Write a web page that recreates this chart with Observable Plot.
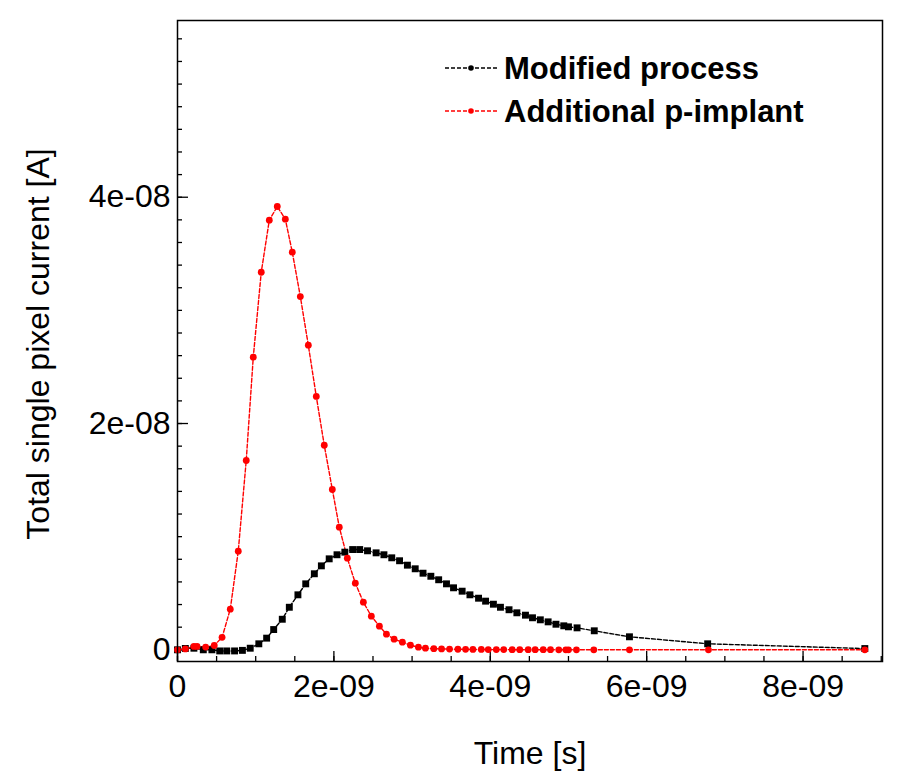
<!DOCTYPE html>
<html><head><meta charset="utf-8">
<script src="https://cdn.jsdelivr.net/npm/d3@7"></script>
<script src="https://cdn.jsdelivr.net/npm/@observablehq/plot@0.6"></script>
<style>
body{margin:0;background:#fff;}
#chart{position:relative;width:901px;height:781px;}
</style>
</head><body><div id="chart"></div>
<script>
const FONT = "'Liberation Sans', Arial, Helvetica, sans-serif";

// Modified process (black squares): time in ns, current in units of 1e-8 A
const modTimeNs = [0, 0.10, 0.21, 0.33, 0.44, 0.54, 0.63, 0.73, 0.83, 0.93,
  1.04, 1.14, 1.23, 1.34, 1.43, 1.54, 1.64, 1.75, 1.84, 1.94,
  2.04, 2.14, 2.24, 2.33, 2.43, 2.54, 2.64, 2.74, 2.84, 2.94,
  3.04, 3.14, 3.24, 3.34, 3.44, 3.53, 3.64, 3.74, 3.85, 3.94,
  4.04, 4.13, 4.24, 4.34, 4.45, 4.54, 4.64, 4.74, 4.84, 4.94,
  5.00, 5.11, 5.33, 5.78, 6.78, 8.79];
const modCurrent = [0, 0.012, 0.014, 0, 0, -0.01, -0.01, -0.01, -0.005, 0.014,
  0.053, 0.103, 0.179, 0.270, 0.376, 0.486, 0.583, 0.672, 0.742, 0.804,
  0.840, 0.863, 0.886, 0.886, 0.875, 0.857, 0.840, 0.813, 0.787, 0.748,
  0.716, 0.677, 0.650, 0.619, 0.583, 0.548, 0.518, 0.486, 0.456, 0.430,
  0.403, 0.376, 0.354, 0.327, 0.306, 0.283, 0.265, 0.247, 0.226, 0.212,
  0.203, 0.194, 0.168, 0.115, 0.053, 0.011];

// Additional p-implant (red circles)
const impTimeNs = [0, 0.10, 0.21, 0.25, 0.36, 0.47, 0.57,
  0.675, 0.777, 0.879, 0.969, 1.071, 1.174, 1.276, 1.379, 1.468, 1.571, 1.673,
  1.775, 1.877, 1.980, 2.069, 2.172, 2.274, 2.377, 2.479, 2.582, 2.672,
  2.770, 2.876, 2.979, 3.081, 3.171,
  3.278, 3.377, 3.479, 3.586, 3.684, 3.778, 3.885, 3.974, 4.077, 4.172, 4.280,
  4.377, 4.485, 4.574, 4.677, 4.770, 4.876, 4.966, 5.000, 5.102, 5.324,
  5.78, 6.79, 8.79];
const impCurrent = [0, 0.008, 0.03, 0.03, 0.024, 0.038, 0.11,
  0.359, 0.872, 1.673, 2.586, 3.337, 3.797, 3.918, 3.806, 3.514, 3.122, 2.692,
  2.239, 1.808, 1.417, 1.084, 0.810, 0.589, 0.421, 0.297, 0.209, 0.138,
  0.094, 0.067, 0.041, 0.023, 0.014,
  0.010, 0.008, 0.006, 0.005, 0.004, 0.003, 0.003, 0.002, 0.002, 0.002, 0.001,
  0.001, 0.001, 0.001, 0.001, 0.001, 0, 0, 0, 0, 0,
  0, 0, 0];

const seriesNames = ["Modified process", "Additional p-implant"];
const seriesColors = ["#000000", "#ff0000"];

const xTicks = [0, 2e-9, 4e-9, 6e-9, 8e-9];
const yTicks = [0, 2e-8, 4e-8];
const xMinor = d3.range(0, 9.01e-9, 5e-10);
const yMinor = d3.range(0, 5.41e-8, 2e-9);

const toRows = (ts, vs) => ts.map((t, i) => ({t: t * 1e-9, v: vs[i] * 1e-8}));
const modRows = toRows(modTimeNs, modCurrent);
const impRows = toRows(impTimeNs, impCurrent);

const fmt = d => d === 0 ? "0" : d.toExponential(0).replace(/e([+-])(\d)$/, "e$10$2");

const plot = Plot.plot({
  width: 901, height: 781,
  marginLeft: 177, marginRight: 19, marginTop: 20, marginBottom: 120,
  style: {fontFamily: FONT, background: "#fff", color: "#000", overflow: "visible"},
  x: {domain: [0, 9.016e-9], label: null},
  y: {domain: [-1.034e-9, 5.562e-8], label: null},
  marks: [
    Plot.axisX(xMinor, {tickSize: -5, fill: "none", label: null, strokeWidth: 1.3}),
    Plot.axisX(xTicks, {tickSize: -10, fill: "none", label: null, strokeWidth: 1.3}),
    Plot.axisX(xTicks, {tickSize: 0, tickPadding: 13, tickFormat: fmt, label: null, fontSize: 32, fill: "#000"}),
    Plot.axisY(yMinor, {tickSize: -5, fill: "none", label: null, strokeWidth: 1.3}),
    Plot.axisY(yTicks, {tickSize: -11, fill: "none", label: null, strokeWidth: 1.3}),
    Plot.axisY(yTicks, {tickSize: 0, tickPadding: 7, tickFormat: fmt, label: null, fontSize: 32, fill: "#000"}),
    Plot.line(modRows, {x: "t", y: "v", stroke: seriesColors[0], strokeWidth: 1.4, strokeDasharray: "4,2"}),
    Plot.line(impRows, {x: "t", y: "v", stroke: seriesColors[1], strokeWidth: 1.4, strokeDasharray: "4,2"}),
    Plot.dot(modRows, {x: "t", y: "v", symbol: "square", r: 3.9, fill: seriesColors[0], stroke: null}),
    Plot.dot(impRows, {x: "t", y: "v", symbol: "circle", r: 3.4, fill: seriesColors[1], stroke: null}),
    Plot.frame({stroke: "#000", strokeWidth: 1.5}),
    Plot.text(["Time [s]"], {text: d => d, frameAnchor: "bottom", dy: 92, fontSize: 32, textAnchor: "middle", lineAnchor: "middle", fill: "#000"}),
    Plot.text(["Total single pixel current [A]"], {text: d => d, frameAnchor: "left", dx: -139, dy: 3, rotate: -90, fontSize: 32, textAnchor: "middle", lineAnchor: "middle", fill: "#000"})
  ]
});

// Legend (inside the frame, top right)
const svg = d3.select(plot);
const lg = svg.append("g").attr("font-family", FONT).attr("text-anchor", "start");
seriesNames.forEach((name, i) => {
  const y = 68 + i * 43;
  lg.append("line").attr("x1", 445).attr("x2", 497).attr("y1", y).attr("y2", y)
    .attr("stroke", seriesColors[i]).attr("stroke-width", 1.4).attr("stroke-dasharray", "4,2");
  lg.append("circle").attr("cx", 471).attr("cy", y).attr("r", 2.8).attr("fill", seriesColors[i]);
  lg.append("text").attr("x", 504).attr("y", y).attr("dy", "0.35em").attr("text-anchor", "start")
    .attr("font-size", 31).attr("font-weight", "bold").attr("fill", "#000").text(name);
});

document.getElementById("chart").appendChild(plot);
</script>
</body></html>
